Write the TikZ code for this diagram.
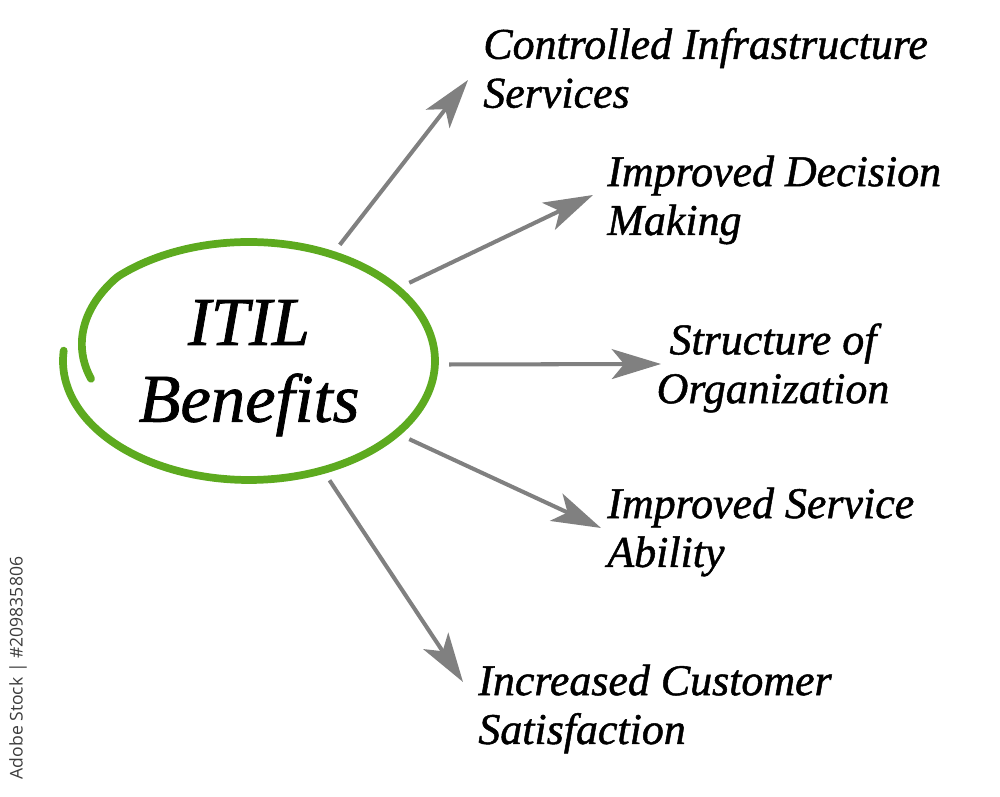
\documentclass[tikz,border=0pt]{standalone}
\usepackage{fontspec}
\setmainfont{Liberation Serif}
\newfontfamily\heavyserif{Liberation Serif}[ItalicFeatures={FakeBold=1.1}]
\newfontfamily\markfont{Open Sans}
\usetikzlibrary{arrows.meta,shapes.geometric}
\definecolor{RingGreen}{HTML}{5DAA1F}
\definecolor{ArrGray}{HTML}{808080}
\definecolor{MarkGray}{HTML}{3C3C3C}

\begin{document}
\begin{tikzpicture}[x=0.02cm, y=0.02cm,
  benefit/.style={font=\heavyserif\itshape\fontsize{25}{27.8}\selectfont, inner sep=0pt},
  arr/.style={ArrGray, line width=2.3pt, -{Stealth[length=28pt,width=17pt,inset=7pt]}}]
  \useasboundingbox (0,0) rectangle (1000,797);
  % centre ring
  \node[ellipse, minimum width=8cm, minimum height=5.2cm, inner sep=0pt,
    font=\heavyserif\itshape\fontsize{39}{43.7}\selectfont] (itil) at (249,436)
    {\raisebox{-4pt}[\height][\depth]{\begin{tabular}{@{}c@{}}ITIL\\Benefits\end{tabular}}};
  \draw[RingGreen, line width=4.4pt, line cap=round]
    plot[domain=175:550, samples=170, smooth]
    ({249+186*(1-0.0025*max(0,\x-495))*cos(\x)}, {436+119*(1-0.0025*max(0,\x-495))*sin(\x)});
  % benefits
  \node[benefit, anchor=west, align=left] (cis) at (483,729) {Controlled Infrastructure\\Services};
  \node[benefit, anchor=west, align=left] (idm) at (607,597) {Improved Decision\\Making};
  \node[benefit, align=center] (soo) at (773,429) {Structure of\\Organization};
  \node[benefit, anchor=west, align=left] (isa) at (607,265) {Improved Service\\Ability};
  \node[benefit, anchor=west, align=left] (ics) at (478,88) {Increased Customer\\Satisfaction};
  % arrow tips
  \coordinate (t1) at (468,717);
  \coordinate (t2) at (593,602);
  \coordinate (t3) at (661,433);
  \coordinate (t4) at (601,269);
  \coordinate (t5) at (463,115);
  \draw[arr] (itil.52) -- (t1);
  \draw[arr] (itil.26) -- (t2);
  \draw[arr] (itil.-1) -- (t3);
  \draw[arr] (itil.-26) -- (t4);
  \draw[arr] (itil.-56) -- (t5);
  \node[rotate=90, font=\markfont\fontsize{10}{12}\selectfont, text=MarkGray, inner sep=0pt]
    (mark) at (18,129) {Adobe Stock | \#209835806};
\end{tikzpicture}
\end{document}
